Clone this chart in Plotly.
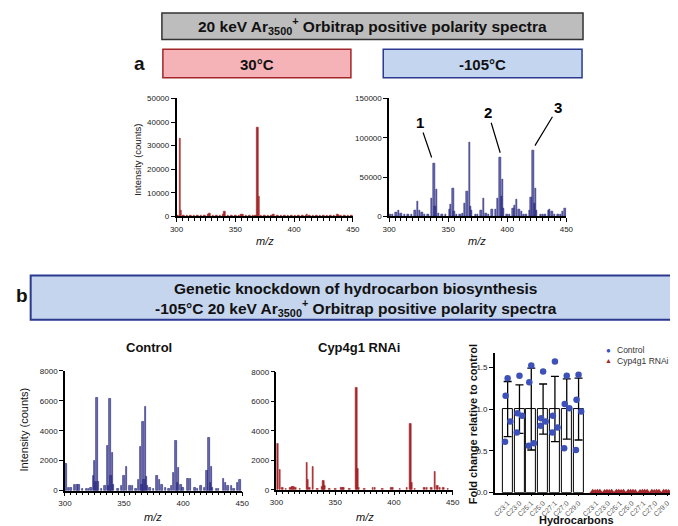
import plotly.graph_objects as go

# ---------------- data ----------------
# Panel a, 30 C (red)
T30_MZ = [301, 303, 304, 306, 309, 312, 315, 318, 321, 324,
          327, 328, 331, 334, 337, 340, 341, 344, 347, 350,
          353, 355, 356, 359, 362, 365, 367, 369, 370, 372,
          375, 378, 381, 382, 383, 386, 389, 392, 395, 398,
          401, 404, 407, 410, 411, 413, 416, 419, 422, 425,
          428, 431, 434, 437, 438, 440, 443, 446, 449]
T30_INT = [300, 32900, 2500, 200, 300, 250, 300, 200, 250, 300,
           900, 1100, 300, 250, 300, 700, 2000, 300, 250, 300,
           350, 700, 800, 300, 250, 300, 400, 37900, 8300, 400,
           300, 350, 300, 700, 900, 300, 250, 300, 300, 350,
           250, 300, 300, 500, 700, 300, 250, 300, 350, 250,
           300, 300, 350, 900, 600, 300, 250, 300, 350]

# Panel a, -105 C (navy)
TM105_MZ = [301, 303, 306, 308, 310, 313, 316, 319, 322, 324,
            326, 328, 330, 333, 336, 338, 339, 340, 342, 345,
            348, 351, 352, 354, 355, 357, 360, 362, 364, 366,
            368, 369, 370, 373, 375, 378, 380, 382, 384, 387,
            390, 392, 394, 395, 396, 397, 400, 402, 405, 406,
            408, 410, 412, 414, 416, 419, 420, 422, 423, 424,
            425, 428, 430, 432, 435, 436, 438, 440, 443, 445, 447, 449]
TM105_INT = [3000, 2000, 5000, 7000, 4000, 3000, 2000, 2000, 7000, 19000,
             7000, 5000, 2000, 2000, 23000, 67000, 13000, 34000, 4000, 3000,
             2000, 9000, 15000, 36000, 6000, 3000, 3000, 4000, 17000, 32000,
             94000, 13000, 8000, 3000, 2000, 8000, 23000, 4000, 3000, 9000,
             9000, 22500, 75000, 25000, 47000, 10000, 2000, 3000, 10000, 14000,
             22000, 9000, 6000, 3000, 2000, 7000, 24500, 84000, 17000, 36000,
             8000, 3000, 2000, 2000, 8000, 9000, 6000, 3000, 3000, 2000, 6000, 10000]
PEAK_LABELS = ["1", "2", "3"]
PEAK_LABEL_MZ = [338, 394, 422]

# Panel b, Control (navy)
CTRL_MZ = [301, 303, 305, 308, 310, 312, 315, 318, 320, 322,
           324, 325, 326, 327, 328, 331, 334, 336, 337, 338,
           339, 340, 341, 345, 348, 350, 352, 355, 357, 360,
           362, 364, 365, 366, 367, 368, 369, 370, 372, 375,
           378, 380, 382, 385, 388, 390, 392, 394, 395, 396,
           398, 400, 404, 406, 410, 412, 415, 418, 420, 422,
           423, 424, 425, 428, 430, 434, 436, 438, 441, 443, 446, 448]
CTRL_INT = [1800, 200, 200, 400, 400, 400, 100, 100, 100, 200,
            1000, 2000, 600, 6200, 600, 100, 300, 3000, 300, 6150,
            1000, 2500, 400, 100, 300, 1000, 1600, 300, 300, 100,
            700, 2900, 400, 4600, 700, 5600, 900, 300, 200, 100,
            1000, 700, 400, 200, 100, 300, 1200, 3300, 500, 1500,
            400, 200, 800, 800, 200, 100, 300, 200, 1300, 3500,
            500, 1600, 200, 100, 100, 800, 500, 300, 300, 100, 550, 700]

# Panel b, Cyp4g1 RNAi (red)
RNAI_MZ = [301, 303, 305, 308, 312, 313, 314, 315, 316, 320,
           326, 327, 328, 331, 335, 339, 340, 341, 345, 350,
           355, 356, 357, 362, 368, 369, 370, 375, 382, 384,
           390, 398, 399, 405, 411, 414, 415, 418, 426, 428,
           432, 435, 437, 439, 442, 446]
RNAI_INT = [3100, 1370, 100, 50, 150, 200, 200, 200, 150, 50,
            1800, 700, 150, 1550, 50, 200, 580, 300, 50, 50,
            100, 100, 100, 50, 6900, 1400, 100, 50, 150, 100,
            50, 100, 100, 50, 100, 4500, 500, 50, 100, 100,
            100, 1250, 250, 150, 100, 50]

# Hydrocarbon fold change
HC = ["C23:1", "C23:0", "C25:1", "C25:0", "C27:1", "C27:0", "C29:0"]
CTRL_MEAN = [1.0, 1.0, 1.0, 1.0, 1.0, 1.0, 1.0]
CTRL_SD = [0.33, 0.29, 0.49, 0.30, 0.39, 0.36, 0.37]
CTRL_PTS = [[1.37, 1.16, 0.85, 0.61],
            [1.40, 0.95, 0.92, 0.72],
            [1.52, 1.32, 0.59, 0.56],
            [1.45, 0.89, 0.85, 0.80],
            [1.57, 0.92, 0.78, 0.72],
            [1.40, 1.06, 1.01, 0.53],
            [1.41, 1.11, 0.97, 0.51]]
RNAI_PTS = [[0.004, 0.003, 0.005, 0.004],
            [0.003, 0.004, 0.003, 0.005],
            [0.005, 0.004, 0.003, 0.004],
            [0.004, 0.005, 0.004, 0.003],
            [0.003, 0.004, 0.005, 0.004],
            [0.004, 0.003, 0.004, 0.005],
            [0.005, 0.004, 0.003, 0.004]]
SERIES = ["Control", "Cyp4g1 RNAi"]

# ---------------- layout helpers ----------------
W, H = 678, 526
def fx(p):
    return p / W
def fy(p):
    return 1 - p / H

NARROW = "Liberation Sans Narrow, Arial Narrow, Liberation Sans, Arial, sans-serif"
SANS = "Liberation Sans, Arial, Helvetica, sans-serif"
RED = "#a3262a"
NAVY = "#24257a"
NAVY_FILL = "rgba(50,50,140,0.72)"
BLUE_PT = "#3d51b8"

fig = go.Figure()

def spectrum(mz, inten, xa, ya, fill, line):
    fig.add_trace(go.Bar(x=mz, y=inten, width=1.3, xaxis=xa, yaxis=ya,
                         marker=dict(color=fill, line=dict(color=line, width=0.6)),
                         showlegend=False, hoverinfo="x+y"))

spectrum(T30_MZ, T30_INT, "x", "y", RED, RED)
spectrum(TM105_MZ, TM105_INT, "x2", "y2", NAVY_FILL, NAVY)
spectrum(CTRL_MZ, CTRL_INT, "x3", "y3", NAVY_FILL, NAVY)
spectrum(RNAI_MZ, RNAI_INT, "x4", "y4", RED, RED)

# bar chart
ctrl_x = list(range(len(HC)))
rnai_x = [i + 7.5 for i in range(len(HC))]
JIT = [0.0, -0.17, 0.22, -0.22]
JIT_R = [-0.3, -0.1, 0.1, 0.3]

fig.add_trace(go.Bar(x=ctrl_x, y=CTRL_MEAN, width=0.85, xaxis="x5", yaxis="y5",
                     marker=dict(color="white", line=dict(color="black", width=1)),
                     error_y=dict(type="data", array=CTRL_SD, color="black",
                                  thickness=1.3, width=4),
                     showlegend=False))
px_, py_ = [], []
for i, pts in enumerate(CTRL_PTS):
    for j, v in enumerate(pts):
        px_.append(ctrl_x[i] + JIT[j])
        py_.append(v)
fig.add_trace(go.Scatter(x=px_, y=py_, mode="markers", xaxis="x5", yaxis="y5",
                         marker=dict(symbol="circle", size=6.5, color=BLUE_PT),
                         name=SERIES[0], showlegend=False))
rx_, ry_ = [], []
for i, pts in enumerate(RNAI_PTS):
    for j, v in enumerate(pts):
        rx_.append(rnai_x[i] + JIT_R[j])
        ry_.append(v)
fig.add_trace(go.Scatter(x=rx_, y=ry_, mode="markers", xaxis="x5", yaxis="y5",
                         marker=dict(symbol="triangle-up", size=7, color=RED),
                         name=SERIES[1], cliponaxis=False, showlegend=False))

# ---------------- axes ----------------
tickfont = dict(family=SANS, size=8, color="#222")

def spec_x(domain, anchor):
    return dict(domain=[fx(domain[0]), fx(domain[1])], anchor=anchor,
                range=[300, 450], tickvals=[300, 350, 400, 450],
                ticks="outside", ticklen=4, tickwidth=1.2, tickcolor="black",
                showline=True, linewidth=1.5, linecolor="black",
                showgrid=False, zeroline=False, tickfont=tickfont,
                minor=dict(dtick=5, ticks="outside", ticklen=2.5, tickwidth=1,
                           tickcolor="black", showgrid=False))

def spec_y(domain, anchor, rng, dtick):
    return dict(domain=[fy(domain[1]), fy(domain[0])], anchor=anchor,
                range=rng, dtick=dtick, tick0=0, tickformat="d",
                ticks="outside", ticklen=4, tickwidth=1.2, tickcolor="black",
                showline=True, linewidth=1.5, linecolor="black",
                showgrid=False, zeroline=False, tickfont=tickfont)

layout = dict(
    width=W, height=H, margin=dict(l=0, r=0, t=0, b=0),
    paper_bgcolor="white", plot_bgcolor="rgba(0,0,0,0)",
    barmode="overlay", bargap=0, showlegend=False,
    xaxis=spec_x((165, 345), "y"), yaxis=spec_y((88, 208), "x", [0, 50000], 10000),
    xaxis2=spec_x((382, 563), "y2"), yaxis2=spec_y((88, 208), "x2", [0, 150000], 50000),
    xaxis3=spec_x((51, 232), "y3"), yaxis3=spec_y((365, 487), "x3", [0, 8000], 2000),
    xaxis4=spec_x((267, 447), "y4"), yaxis4=spec_y((366, 486), "x4", [0, 8000], 2000),
    xaxis5=dict(domain=[fx(490), fx(672)], anchor="y5", range=[-1.08, 14.0],
                tickvals=ctrl_x + rnai_x, ticktext=HC + HC, tickangle=-45,
                ticks="outside", ticklen=2, tickwidth=1, tickcolor="black",
                showline=True, linewidth=1.5, linecolor="black",
                showgrid=False, zeroline=False,
                tickfont=dict(family=SANS, size=7, color="#555")),
    yaxis5=dict(domain=[fy(489), fy(347)], anchor="x5", range=[0, 1.67],
                tickvals=[0, 0.5, 1.0, 1.5], tickformat=".1f",
                ticks="outside", ticklen=4, tickwidth=1.2, tickcolor="black",
                showline=True, linewidth=1.5, linecolor="black",
                showgrid=False, zeroline=False, tickfont=tickfont),
)
fig.update_layout(**layout)

# ---------------- boxes ----------------
shapes = []
def box(x0, y0, x1, y1, fill, line, lw=1.5):
    shapes.append(dict(type="rect", xref="paper", yref="paper",
                       x0=fx(x0), x1=fx(x1), y0=fy(y1), y1=fy(y0),
                       fillcolor=fill, line=dict(color=line, width=lw), layer="below"))
box(150, 1, 580, 28, "#bdbdbd", "#333333")
box(151, 38, 343, 67, "#f5b3b8", "#a3262a")
box(376, 38, 579, 67, "#c3d5ef", "#2b3990")
box(16, 268, 677, 313, "#c5d5ee", "#2b3990", 2)
fig.update_layout(shapes=shapes)

# ---------------- text ----------------
anns = []
def txt(t, x, y, size, family=NARROW, color="#111", angle=0, xanchor="center"):
    anns.append(dict(text=t, x=fx(x), y=fy(y), xref="paper", yref="paper",
                     showarrow=False, xanchor=xanchor, yanchor="middle",
                     textangle=angle, font=dict(family=family, size=size, color=color)))

txt("<b>20 keV Ar<sub>3500</sub><sup>+</sup> Orbitrap positive polarity spectra</b>", 365, 14, 15.5)
txt("<b>a</b>", 127, 52, 19, family=SANS)
txt("<b>30°C</b>", 247, 53, 15)
txt("<b>-105°C</b>", 477, 53, 15)
txt("<b>b</b>", 7, 288, 19, family=SANS)
txt("<b>Genetic knockdown of hydrocarbon biosynthesis</b>", 348, 281, 15.5)
txt("<b>-105°C 20 keV Ar<sub>3500</sub><sup>+</sup> Orbitrap positive polarity spectra</b>", 348, 301, 15.5)
txt("<b>Control</b>", 137, 341, 13)
txt("<b>Cyp4g1 RNAi</b>", 351, 341, 13)

txt("Intensity (counts)", 125, 150, 9.5, family=SANS, angle=-90)
txt("Intensity (counts)", 9, 425, 11, family=SANS, angle=-90)
txt("<b>Fold change relative to control</b>", 467, 419, 11, family=SANS, angle=-90)
txt("<b>Hydrocarbons</b>", 573, 517, 11, family=SANS)
for cx, cy in [(255, 233), (472, 233), (141, 514), (357, 514)]:
    txt("<i>m/z</i>", cx, cy, 11, family=SANS)

# legend (drawn as text)
txt("●", 606, 344, 8, family=SANS, color=BLUE_PT)
txt(SERIES[0], 613, 344, 8.5, family=SANS, color="#333", xanchor="left")
txt("▲", 606, 355, 7, family=SANS, color=RED)
txt(SERIES[1], 613, 355, 8.5, family=SANS, color="#333", xanchor="left")

# peak labels on the -105 C spectrum
offs = [(-12, -35, -2, 8000), (-12, -40, 0, 6000), (23, -38, 1.4, 6000)]
for lab, mz, (ax, ay, dx, dy) in zip(PEAK_LABELS, PEAK_LABEL_MZ, offs):
    val = TM105_INT[TM105_MZ.index(mz)]
    anns.append(dict(text="<b>%s</b>" % lab, x=mz + dx, y=val + dy, xref="x2", yref="y2",
                     showarrow=True, arrowhead=0, arrowwidth=1.2, arrowcolor="black",
                     ax=ax, ay=ay, font=dict(family=SANS, size=15, color="black")))

fig.update_layout(annotations=anns)
fig.write_html("out.html")
